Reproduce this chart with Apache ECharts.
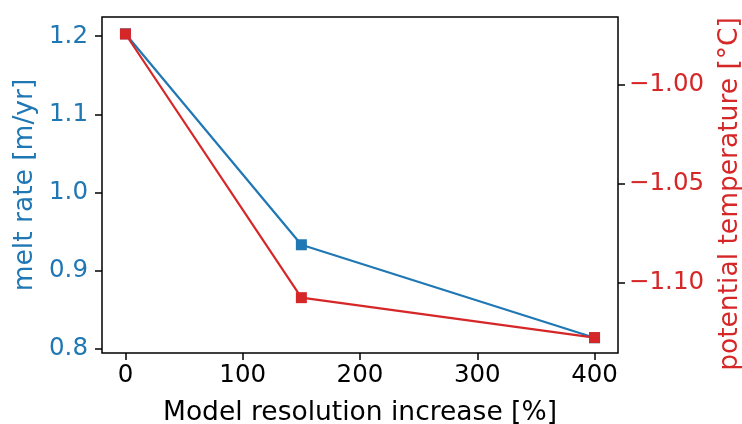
<!DOCTYPE html>
<html>
<head>
<meta charset="utf-8">
<script src="https://cdn.jsdelivr.net/npm/echarts@6/dist/echarts.min.js"></script>
<style>
  html, body { margin: 0; padding: 0; background: #fff; }
  #chart { width: 742px; height: 424px; }
</style>
</head>
<body>
<div id="chart"></div>
<script>
// Resolution increase (%) for the three model runs
const resolutionIncrease = [0, 150, 400];
// Melt rate in m/yr (left axis)
const meltRate = [1.203, 0.933, 0.814];
// Potential temperature in °C (right axis)
const potentialTemp = [-0.9742, -1.1076, -1.1278];

// Tick positions
const xTicks = [0, 100, 200, 300, 400];
const meltTicks = [0.8, 0.9, 1.0, 1.1, 1.2];
const tempTicks = [-1.10, -1.05, -1.00];

const BLUE = '#1f77b4';
const RED = '#d62728';
const FONT = 'DejaVu Sans';
const TICK_FS = 24.5;
const NAME_FS = 26.5;

const chart = echarts.init(document.getElementById('chart'), null, { renderer: 'canvas' });

const tickStyle = { show: true, inside: false, length: 7, lineStyle: { color: '#000', width: 1.5 } };

chart.setOption({
  animation: false,
  backgroundColor: '#fff',
  grid: {
    left: 102, right: 124, top: 17, bottom: 71,
    outerBoundsMode: 'none',
    containLabel: false,
    show: true, borderColor: '#000', borderWidth: 1.5, backgroundColor: 'transparent'
  },
  xAxis: {
    type: 'value',
    min: -20, max: 420,
    name: 'Model resolution increase [%]',
    nameLocation: 'middle',
    nameGap: 47,
    nameTextStyle: { fontFamily: FONT, fontSize: NAME_FS, color: '#000' },
    axisLine: { show: false, onZero: false },
    splitLine: { show: false },
    axisTick: Object.assign({ customValues: xTicks }, tickStyle),
    axisLabel: {
      customValues: xTicks, margin: 10,
      fontFamily: FONT, fontSize: TICK_FS, color: '#000'
    }
  },
  yAxis: [
    {
      type: 'value',
      position: 'left',
      min: 0.7945, max: 1.2245,
      name: 'melt rate [m/yr]',
      nameLocation: 'middle',
      nameRotate: 90,
      nameGap: 61,
      nameTextStyle: { fontFamily: FONT, fontSize: NAME_FS, color: BLUE },
      axisLine: { show: false, onZero: false },
      splitLine: { show: false },
      axisTick: Object.assign({ customValues: meltTicks }, tickStyle),
      axisLabel: {
        customValues: meltTicks, margin: 14,
        fontFamily: FONT, fontSize: TICK_FS, color: BLUE,
        formatter: v => v.toFixed(1)
      }
    },
    {
      type: 'value',
      position: 'right',
      min: -1.1356, max: -0.9656,
      name: 'potential temperature [°C]',
      nameLocation: 'middle',
      nameRotate: 90,
      nameGap: 99,
      nameTextStyle: { fontFamily: FONT, fontSize: NAME_FS, color: RED, padding: [0, 18, 0, 0] },
      axisLine: { show: false, onZero: false },
      splitLine: { show: false },
      axisTick: Object.assign({ customValues: tempTicks }, tickStyle),
      axisLabel: {
        customValues: tempTicks, margin: 11,
        fontFamily: FONT, fontSize: TICK_FS, color: RED,
        formatter: v => v.toFixed(2).replace('-', '\u2212')
      }
    }
  ],
  series: [
    {
      name: 'melt rate',
      type: 'line',
      yAxisIndex: 0,
      data: resolutionIncrease.map((x, i) => [x, meltRate[i]]),
      symbol: 'rect',
      symbolSize: 11,
      showAllSymbol: true,
      lineStyle: { color: BLUE, width: 2.2 },
      itemStyle: { color: BLUE },
      z: 2
    },
    {
      name: 'potential temperature',
      type: 'line',
      yAxisIndex: 1,
      data: resolutionIncrease.map((x, i) => [x, potentialTemp[i]]),
      symbol: 'rect',
      symbolSize: 11,
      showAllSymbol: true,
      lineStyle: { color: RED, width: 2.2 },
      itemStyle: { color: RED },
      z: 3
    }
  ]
});
</script>
</body>
</html>
